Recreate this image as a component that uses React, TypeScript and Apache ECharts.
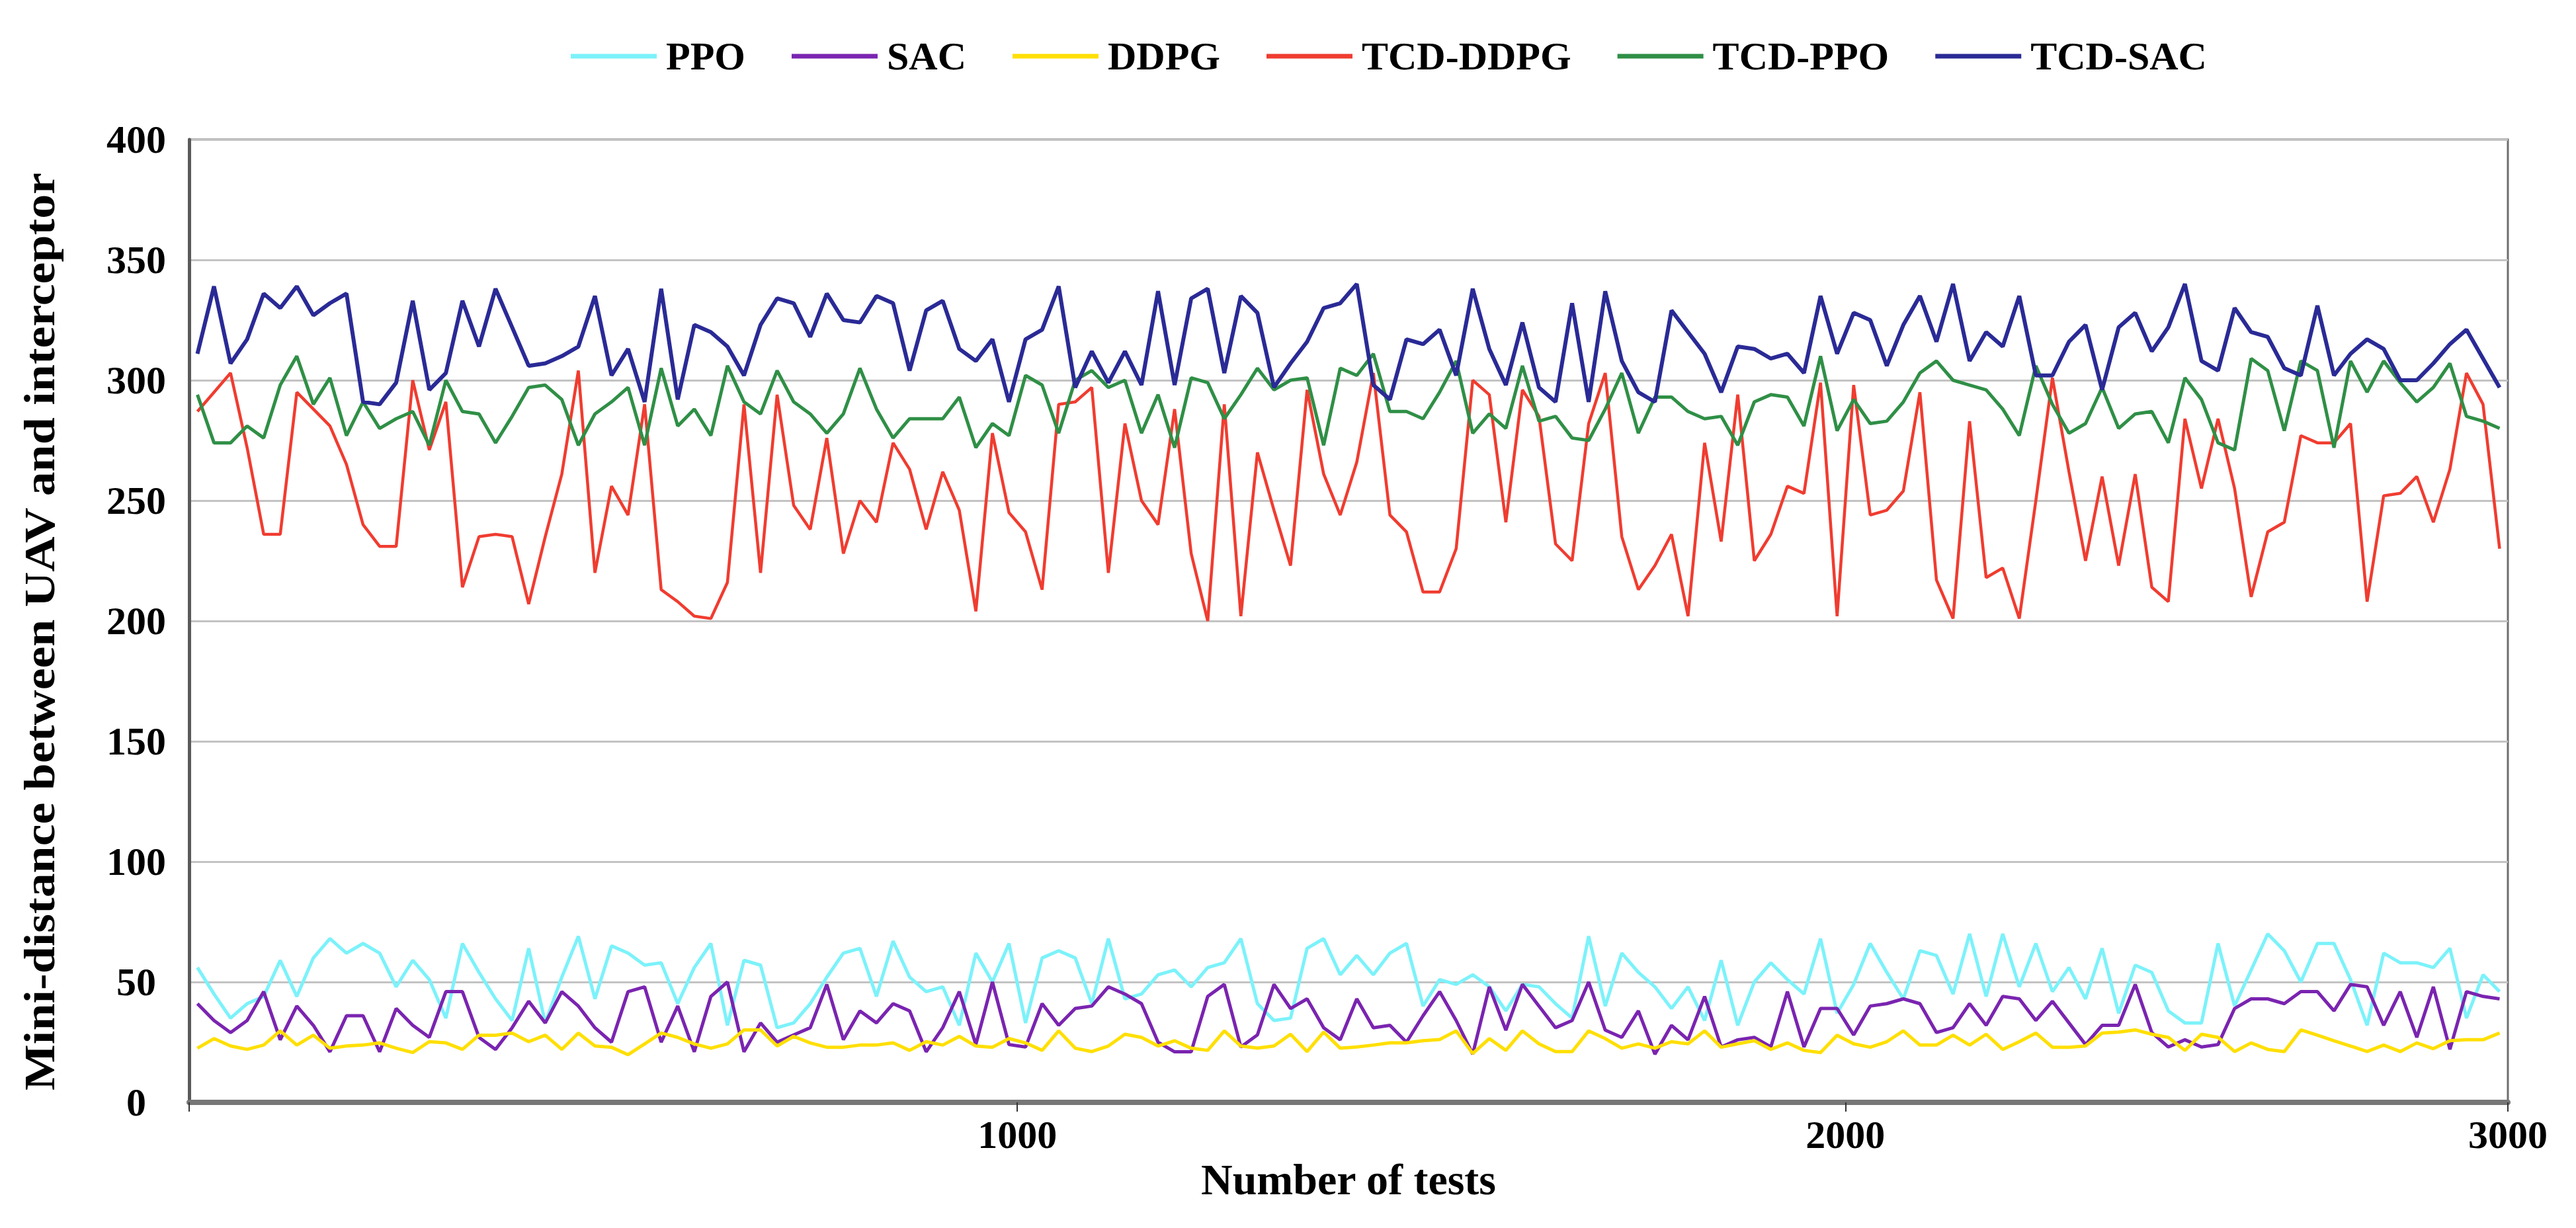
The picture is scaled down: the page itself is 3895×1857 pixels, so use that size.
import React, { useEffect, useRef } from "react";
import * as echarts from "echarts";

const FONT = "'Liberation Serif', 'Times New Roman', serif";

// test number at the centre of each sampled block (140 samples)
const tests: number[] = Array.from({ length: 140 }, (_, i) => 10 + 20 * i);

const seriesNames = ["PPO", "SAC", "DDPG", "TCD-DDPG", "TCD-PPO", "TCD-SAC"];
const seriesColors = ["#7cf2fa", "#7a24b0", "#ffdf00", "#f03c30", "#2f8f46", "#2a2a96"];
const seriesWidths = [5, 5, 5, 4.5, 5, 6];

const ppo = [
  56, 45, 35, 41, 44, 59, 44, 60, 68, 62, 66, 62, 48, 59, 51, 35, 66, 54, 43, 34,
  64, 33, 52, 69, 43, 65, 62, 57, 58, 41, 56, 66, 32, 59, 57, 31, 33, 41, 52, 62,
  64, 44, 67, 52, 46, 48, 32, 62, 50, 66, 33, 60, 63, 60, 41, 68, 43, 45, 53, 55,
  48, 56, 58, 68, 41, 34, 35, 64, 68, 53, 61, 53, 62, 66, 40, 51, 49, 53, 48, 38,
  49, 48, 41, 35, 69, 40, 62, 54, 48, 39, 48, 34, 59, 32, 50, 58, 51, 45, 68, 37,
  49, 66, 54, 43, 63, 61, 45, 70, 44, 70, 48, 66, 46, 56, 43, 64, 37, 57, 54, 38,
  33, 33, 66, 40, 55, 70, 63, 50, 66, 66, 51, 32, 62, 58, 58, 56, 64, 35, 53, 46,
];

const sac = [
  41, 34, 29, 34, 46, 26, 40, 32, 21, 36, 36, 21, 39, 32, 27, 46, 46, 27, 22, 31,
  42, 33, 46, 40, 31, 25, 46, 48, 25, 40, 21, 44, 50, 21, 33, 25, 28, 31, 49, 26,
  38, 33, 41, 38, 21, 31, 46, 24, 50, 24, 23, 41, 32, 39, 40, 48, 45, 41, 25, 21,
  21, 44, 49, 23, 28, 49, 39, 43, 31, 26, 43, 31, 32, 25, 36, 46, 34, 20, 48, 30,
  49, 40, 31, 34, 50, 30, 27, 38, 20, 32, 26, 44, 23, 26, 27, 23, 46, 23, 39, 39,
  28, 40, 41, 43, 41, 29, 31, 41, 32, 44, 43, 34, 42, 33, 24, 32, 32, 49, 29, 23,
  26, 23, 24, 39, 43, 43, 41, 46, 46, 38, 49, 48, 32, 46, 27, 48, 22, 46, 44, 43,
];

const ddpg = [
  22.5, 26.5, 23.4, 22, 23.8, 29.7, 23.8, 27.9, 22.5, 23.4, 23.8, 24.7, 22.5, 20.7, 25.2, 24.7, 22, 27.9, 27.9, 28.8,
  25.2, 27.9, 22, 28.8, 23.4, 22.9, 19.8, 24.3, 28.8, 27, 24.3, 22.5, 24.3, 30.1, 30.1, 23.4, 27.4, 24.7, 22.9, 22.9,
  23.8, 23.8, 24.7, 21.6, 25.2, 23.8, 27.4, 23.4, 22.9, 26.5, 24.7, 21.6, 29.7, 22.5, 21.1, 23.4, 28.3, 27, 23.4, 25.6,
  22.5, 21.6, 29.7, 23.4, 22.5, 23.4, 28.3, 21.1, 29.2, 22.5, 23, 23.8, 24.7, 24.7, 25.6, 26.1, 29.7, 20.3, 26.5, 21.6,
  29.7, 24.3, 21.1, 21.1, 29.7, 26.5, 22.5, 24.3, 22.5, 25.2, 24.3, 29.7, 22.9, 24.3, 25.6, 22, 24.7, 21.6, 20.7, 27.9,
  24.3, 22.9, 25.2, 29.7, 23.8, 23.8, 27.9, 23.8, 28.3, 22, 25.2, 28.8, 22.9, 22.9, 23.4, 28.8, 29.2, 30.1, 28.3, 27,
  21.6, 28.3, 27, 21.1, 24.7, 22, 21.1, 30.1, 27.9, 25.6, 23.4, 21.1, 23.8, 21.1, 24.7, 22.3, 25.6, 26, 26, 28.8,
];

const tcdDdpg = [
  287, 295, 303, 272, 236, 236, 295, 288, 281, 265, 240, 231, 231, 300, 271, 291, 214, 235, 236, 235,
  207, 235, 261, 304, 220, 256, 244, 290, 213, 208, 202, 201, 216, 290, 220, 294, 248, 238, 276, 228,
  250, 241, 274, 263, 238, 262, 246, 204, 278, 245, 237, 213, 290, 291, 297, 220, 282, 250, 240, 288,
  228, 200, 290, 202, 270, 246, 223, 296, 261, 244, 266, 303, 244, 237, 212, 212, 230, 300, 294, 241,
  296, 285, 232, 225, 282, 303, 235, 213, 223, 236, 202, 274, 233, 294, 225, 236, 256, 253, 299, 202,
  298, 244, 246, 254, 295, 217, 201, 283, 218, 222, 201, 250, 301, 262, 225, 260, 223, 261, 214, 208,
  284, 255, 284, 255, 210, 237, 241, 277, 274, 274, 282, 208, 252, 253, 260, 241, 263, 303, 290, 230,
];

const tcdPpo = [
  294, 274, 274, 281, 276, 298, 310, 290, 301, 277, 291, 280, 284, 287, 273, 300, 287, 286, 274, 285,
  297, 298, 292, 273, 286, 291, 297, 273, 305, 281, 288, 277, 306, 291, 286, 304, 291, 286, 278, 286,
  305, 288, 276, 284, 284, 284, 293, 272, 282, 277, 302, 298, 278, 300, 304, 297, 300, 278, 294, 272,
  301, 299, 284, 294, 305, 296, 300, 301, 273, 305, 302, 311, 287, 287, 284, 295, 308, 278, 286, 280,
  306, 283, 285, 276, 275, 288, 303, 278, 293, 293, 287, 284, 285, 273, 291, 294, 293, 281, 310, 279,
  292, 282, 283, 291, 303, 308, 300, 298, 296, 288, 277, 306, 290, 278, 282, 297, 280, 286, 287, 274,
  301, 292, 274, 271, 309, 304, 279, 308, 304, 272, 308, 295, 308, 299, 291, 297, 307, 285, 283, 280,
];

const tcdSac = [
  311, 339, 307, 317, 336, 330, 339, 327, 332, 336, 291, 290, 299, 333, 296, 303, 333, 314, 338, 322,
  306, 307, 310, 314, 335, 302, 313, 291, 338, 292, 323, 320, 314, 302, 323, 334, 332, 318, 336, 325,
  324, 335, 332, 304, 329, 333, 313, 308, 317, 291, 317, 321, 339, 297, 312, 299, 312, 298, 337, 298,
  334, 338, 303, 335, 328, 297, 307, 316, 330, 332, 340, 298, 292, 317, 315, 321, 302, 338, 313, 298,
  324, 297, 291, 332, 291, 337, 308, 295, 291, 329, 320, 311, 295, 314, 313, 309, 311, 303, 335, 311,
  328, 325, 306, 323, 335, 316, 340, 308, 320, 314, 335, 302, 302, 316, 323, 296, 322, 328, 312, 322,
  340, 308, 304, 330, 320, 318, 305, 302, 331, 302, 311, 317, 313, 300, 300, 307, 315, 321, 309, 297,
];

const seriesValues = [ppo, sac, ddpg, tcdDdpg, tcdPpo, tcdSac];

// x tick labels as printed on the reference axis
const xTickLabels: Record<number, string> = { 1000: "1000", 2000: "2000", 2800: "3000" };

const yAxisTitle = "Mini-distance between UAV and interceptor";

export default function App() {
  const ref = useRef<HTMLDivElement>(null);

  useEffect(() => {
    if (!ref.current) return;
    const chart = echarts.init(ref.current, undefined, { renderer: "svg" });
    const textBase = { fontFamily: FONT, fontWeight: "bold" as const, color: "#000" };

    chart.setOption({
      animation: false,
      backgroundColor: "#ffffff",
      legend: {
        top: 50,
        left: 858,
        itemWidth: 130,
        itemHeight: 7,
        itemGap: 70,
        icon: "rect",
        textStyle: { ...textBase, fontSize: 60, padding: [0, 0, 0, 9] },
        data: seriesNames,
      },
      graphic: [
        {
          type: "text",
          x: 60,
          y: 955,
          rotation: Math.PI / 2,
          scaleX: 1.12,
          style: {
            text: yAxisTitle,
            font: `bold 66px ${FONT}`,
            fill: "#000",
            align: "center",
            verticalAlign: "middle",
          },
        },
      ],
      grid: {
        left: 286,
        top: 211,
        width: 3506,
        height: 1456,
        show: true,
        borderColor: "#6e6e6e",
        borderWidth: 3,
        backgroundColor: "transparent",
      },
      xAxis: {
        type: "value",
        min: 0,
        max: 2800,
        interval: 1000,
        axisLine: { show: true, onZero: false, lineStyle: { color: "#777777", width: 8 } },
        axisTick: { show: true, length: 14, lineStyle: { color: "#333333", width: 2 } },
        splitLine: { show: false },
        axisLabel: {
          ...textBase,
          fontSize: 60,
          margin: 19,
          formatter: (v: number) => xTickLabels[v] ?? "",
        },
        name: "Number of tests",
        nameLocation: "middle",
        nameGap: 65,
        nameTextStyle: { ...textBase, fontSize: 66 },
      },
      yAxis: {
        type: "value",
        min: 0,
        max: 400,
        interval: 50,
        axisLine: { show: true, lineStyle: { color: "#5a5a5a", width: 5 } },
        axisTick: { show: false },
        splitLine: { show: true, lineStyle: { color: "#c3c3c3", width: 3 } },
        axisLabel: { ...textBase, fontSize: 60, align: "center", margin: 80 },
      },
      series: seriesNames.map((name, k) => ({
        name,
        type: "line",
        symbol: "none",
        color: seriesColors[k],
        lineStyle: { color: seriesColors[k], width: seriesWidths[k] },
        data: tests.map((x, i) => [x, seriesValues[k][i]]),
        z: 2 + k,
      })),
    });

    return () => chart.dispose();
  }, []);

  return (
    <div
      ref={ref}
      style={{ position: "fixed", left: 0, top: 0, width: "3895px", height: "1857px", background: "#fff" }}
    />
  );
}
